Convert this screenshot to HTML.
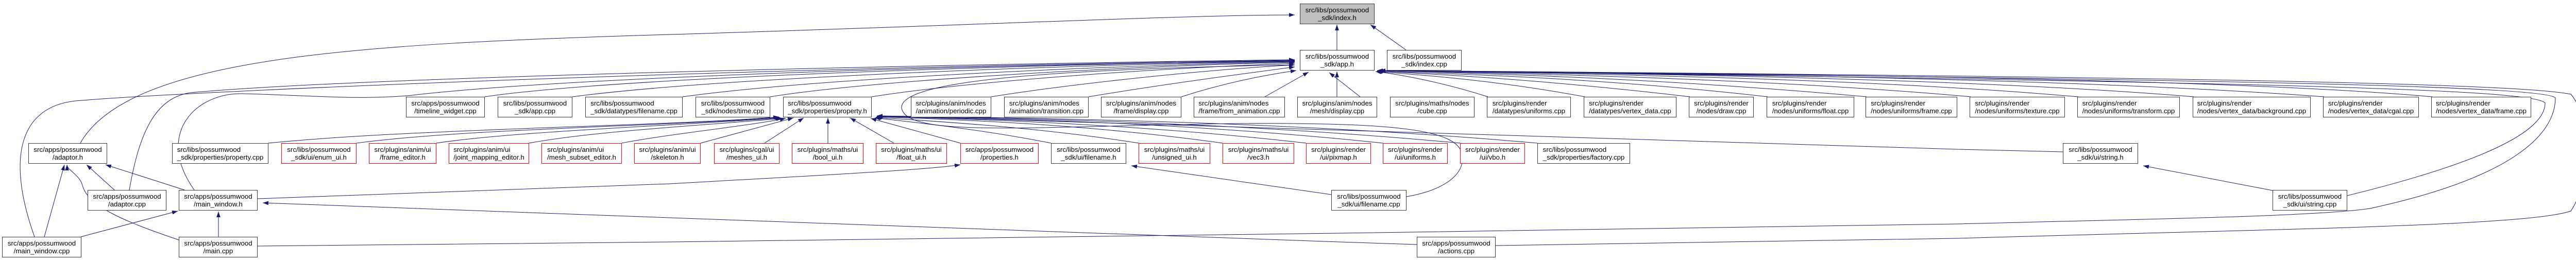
<!DOCTYPE html>
<html><head><meta charset="utf-8"><style>
html,body{margin:0;padding:0;background:#fff;}
body{width:5079px;height:507px;position:relative;overflow:hidden;font-family:"Liberation Sans",sans-serif;font-size:13.3px;line-height:15px;color:#000;}
.n{position:absolute;height:40px;box-sizing:border-box;border:1px solid #3a3a3a;background:#fff;display:flex;align-items:center;justify-content:center;white-space:nowrap;z-index:2;}
.r{border-color:#ff0000;}
.g{background:#bfbfbf;}
.lb{display:inline-block;text-align:center;}
.lb span{display:block;text-align:left;}
svg{position:absolute;left:0;top:0;z-index:1;}
</style></head><body>
<svg width="5079" height="507" viewBox="0 0 5079 507">
<defs><marker id="a" markerUnits="userSpaceOnUse" markerWidth="11" markerHeight="8" viewBox="0 0 10 7" refX="10" refY="3.5" orient="auto"><path d="M0,0 L10,3.5 L0,7 z" fill="#191970"/></marker></defs>
<g fill="none" stroke="#191970" stroke-width="1" marker-end="url(#a)">
<path d="M2595,97 L2595,48"/>
<path d="M2729,97 L2660,48"/>
<path d="M156,278 C250,110 700,85 1300,67 S2300,29 2513,29"/>
<path d="M67,460 C10,300 40,200 160,195 C400,175 1500,130 2513,117"/>
<path d="M251,369 C270,260 300,190 370,180 C700,150 1800,125 2513,116"/>
<path d="M377,369 C300,260 380,180 470,182 C600,185 700,195 800,185 C1100,150 1900,125 2513,119"/>
<path d="M941,188 C1200,150 2000,125 2513,118"/>
<path d="M1111,188 C1400,150 2100,125 2513,119"/>
<path d="M1325,188 C1600,150 2200,126 2513,120"/>
<path d="M1495,188 C1700,155 2200,128 2513,121"/>
<path d="M1692,188 C1900,155 2300,130 2513,123"/>
<path d="M1924,188 C2100,160 2350,135 2513,126"/>
<path d="M2113,188 C2250,165 2400,145 2513,130"/>
<path d="M2293,188 C2380,160 2460,145 2516,137"/>
<path d="M2455,188 L2540,140"/>
<path d="M2595,188 L2595,139"/>
<path d="M2640,188 L2580,141"/>
<path d="M2888,188 C2800,160 2720,145 2670,139"/>
<path d="M3076,188 C2900,155 2750,145 2672,139"/>
<path d="M3280,188 C3000,155 2800,145 2673,138"/>
<path d="M3431,188 C3100,150 2800,143 2673,138"/>
<path d="M3623,188 C3200,150 2850,142 2673,137"/>
<path d="M3825,188 C3400,150 2900,142 2673,137"/>
<path d="M4034,188 C3600,150 3000,142 2673,137"/>
<path d="M4258,188 C3800,150 3100,142 2673,137"/>
<path d="M4511,188 C4000,150 3200,142 2673,137"/>
<path d="M4721,188 C4300,150 3300,142 2673,137"/>
<path d="M500,478 L1300,470 L2600,453 L3800,435 C4200,425 4500,420 4600,405 C4900,340 4960,250 4960,190 C4940,170 4500,155 2678,137"/>
<path d="M2903,477 L3800,463 C4400,445 4900,440 4990,410 C5030,350 5030,230 4990,183 C4900,165 4400,150 2678,137"/>
<path d="M4556,380 C4800,320 4940,260 4940,200 C4920,175 4500,160 2678,137"/>
<path d="M2750,475 L2600,470 L1300,423 L510,394"/>
<path d="M500,386 L1300,357 C1600,340 1800,330 1864,320"/>
<path d="M2584,378 L2196,322"/>
<path d="M2730,382 C2800,370 2845,340 2838,300 C2830,250 2700,238 2400,240 C2000,245 1760,268 1750,210 C1745,160 2000,135 2513,126"/>
<path d="M4411,370 L4160,322"/>
<path d="M4004,295 L3800,290 C3000,265 2200,240 1702,225"/>
<path d="M521,278 C800,250 1300,245 1512,227"/>
<path d="M692,278 C900,250 1300,245 1514,228"/>
<path d="M847,278 C1000,255 1300,245 1516,229"/>
<path d="M1027,278 C1150,255 1350,245 1518,230"/>
<path d="M1207,278 C1300,260 1450,245 1525,230"/>
<path d="M1360,278 L1540,229"/>
<path d="M1484,278 L1560,229"/>
<path d="M1607,278 L1607,229"/>
<path d="M1735,278 L1650,229"/>
<path d="M1864,278 L1690,230"/>
<path d="M2040,278 C1900,250 1750,235 1698,229"/>
<path d="M2210,278 C2000,245 1800,235 1700,228"/>
<path d="M2373,278 C2100,240 1850,232 1701,227"/>
<path d="M2535,278 C2200,240 1900,232 1702,226"/>
<path d="M2684,278 C2300,238 1950,230 1702,226"/>
<path d="M2834,278 C2400,238 2000,230 1702,225"/>
<path d="M2984,278 C2500,236 2050,230 1702,225"/>
<path d="M222,369 L168,320"/>
<path d="M358,369 L205,320"/>
<path d="M86,460 L125,320"/>
<path d="M347,466 C240,430 170,400 160,360 C155,340 130,330 130,320"/>
<path d="M157,460 L345,410"/>
<path d="M424,460 L424,411"/>
</g>
</svg>
<div class="n g" style="left:2523px;top:7px;width:145px"><div class="lb"><span>src/libs/possumwood</span>_sdk/index.h</div></div>
<div class="n" style="left:2523px;top:97px;width:145px"><div class="lb"><span>src/libs/possumwood</span>_sdk/app.h</div></div>
<div class="n" style="left:2692px;top:97px;width:145px"><div class="lb"><span>src/libs/possumwood</span>_sdk/index.cpp</div></div>

<div class="n" style="left:788px;top:188px;width:153px"><div class="lb"><span>src/apps/possumwood</span>/timeline_widget.cpp</div></div>
<div class="n" style="left:966px;top:188px;width:145px"><div class="lb"><span>src/libs/possumwood</span>_sdk/app.cpp</div></div>
<div class="n" style="left:1136px;top:188px;width:189px"><div class="lb"><span>src/libs/possumwood</span>_sdk/datatypes/filename.cpp</div></div>
<div class="n" style="left:1350px;top:188px;width:145px"><div class="lb"><span>src/libs/possumwood</span>_sdk/nodes/time.cpp</div></div>
<div class="n" style="left:1520px;top:188px;width:172px"><div class="lb"><span>src/libs/possumwood</span>_sdk/properties/property.h</div></div>
<div class="n" style="left:1768px;top:188px;width:156px"><div class="lb"><span>src/plugins/anim/nodes</span>/animation/periodic.cpp</div></div>
<div class="n" style="left:1949px;top:188px;width:164px"><div class="lb"><span>src/plugins/anim/nodes</span>/animation/transition.cpp</div></div>
<div class="n" style="left:2137px;top:188px;width:156px"><div class="lb"><span>src/plugins/anim/nodes</span>/frame/display.cpp</div></div>
<div class="n" style="left:2317px;top:188px;width:177px"><div class="lb"><span>src/plugins/anim/nodes</span>/frame/from_animation.cpp</div></div>
<div class="n" style="left:2518px;top:188px;width:155px"><div class="lb"><span>src/plugins/anim/nodes</span>/mesh/display.cpp</div></div>
<div class="n" style="left:2698px;top:188px;width:164px"><div class="lb"><span>src/plugins/maths/nodes</span>/cube.cpp</div></div>
<div class="n" style="left:2886px;top:188px;width:163px"><div class="lb"><span>src/plugins/render</span>/datatypes/uniforms.cpp</div></div>
<div class="n" style="left:3074px;top:188px;width:180px"><div class="lb"><span>src/plugins/render</span>/datatypes/vertex_data.cpp</div></div>
<div class="n" style="left:3278px;top:188px;width:126px"><div class="lb"><span>src/plugins/render</span>/nodes/draw.cpp</div></div>
<div class="n" style="left:3429px;top:188px;width:170px"><div class="lb"><span>src/plugins/render</span>/nodes/uniforms/float.cpp</div></div>
<div class="n" style="left:3621px;top:188px;width:178px"><div class="lb"><span>src/plugins/render</span>/nodes/uniforms/frame.cpp</div></div>
<div class="n" style="left:3823px;top:188px;width:185px"><div class="lb"><span>src/plugins/render</span>/nodes/uniforms/texture.cpp</div></div>
<div class="n" style="left:4032px;top:188px;width:199px"><div class="lb"><span>src/plugins/render</span>/nodes/uniforms/transform.cpp</div></div>
<div class="n" style="left:4256px;top:188px;width:229px"><div class="lb"><span>src/plugins/render</span>/nodes/vertex_data/background.cpp</div></div>
<div class="n" style="left:4509px;top:188px;width:186px"><div class="lb"><span>src/plugins/render</span>/nodes/vertex_data/cgal.cpp</div></div>
<div class="n" style="left:4719px;top:188px;width:194px"><div class="lb"><span>src/plugins/render</span>/nodes/vertex_data/frame.cpp</div></div>

<div class="n" style="left:55px;top:278px;width:153px"><div class="lb"><span>src/apps/possumwood</span>/adaptor.h</div></div>
<div class="n" style="left:334px;top:278px;width:187px"><div class="lb"><span>src/libs/possumwood</span>_sdk/properties/property.cpp</div></div>
<div class="n r" style="left:546px;top:278px;width:146px"><div class="lb"><span>src/libs/possumwood</span>_sdk/ui/enum_ui.h</div></div>
<div class="n r" style="left:716px;top:278px;width:131px"><div class="lb"><span>src/plugins/anim/ui</span>/frame_editor.h</div></div>
<div class="n r" style="left:871px;top:278px;width:156px"><div class="lb"><span>src/plugins/anim/ui</span>/joint_mapping_editor.h</div></div>
<div class="n r" style="left:1051px;top:278px;width:156px"><div class="lb"><span>src/plugins/anim/ui</span>/mesh_subset_editor.h</div></div>
<div class="n r" style="left:1231px;top:278px;width:129px"><div class="lb"><span>src/plugins/anim/ui</span>/skeleton.h</div></div>
<div class="n r" style="left:1386px;top:278px;width:127px"><div class="lb"><span>src/plugins/cgal/ui</span>/meshes_ui.h</div></div>
<div class="n r" style="left:1537px;top:278px;width:139px"><div class="lb"><span>src/plugins/maths/ui</span>/bool_ui.h</div></div>
<div class="n r" style="left:1700px;top:278px;width:138px"><div class="lb"><span>src/plugins/maths/ui</span>/float_ui.h</div></div>
<div class="n r" style="left:1864px;top:278px;width:152px"><div class="lb"><span>src/apps/possumwood</span>/properties.h</div></div>
<div class="n" style="left:2040px;top:278px;width:146px"><div class="lb"><span>src/libs/possumwood</span>_sdk/ui/filename.h</div></div>
<div class="n r" style="left:2210px;top:278px;width:139px"><div class="lb"><span>src/plugins/maths/ui</span>/unsigned_ui.h</div></div>
<div class="n r" style="left:2373px;top:278px;width:139px"><div class="lb"><span>src/plugins/maths/ui</span>/vec3.h</div></div>
<div class="n r" style="left:2535px;top:278px;width:126px"><div class="lb"><span>src/plugins/render</span>/ui/pixmap.h</div></div>
<div class="n r" style="left:2684px;top:278px;width:126px"><div class="lb"><span>src/plugins/render</span>/ui/uniforms.h</div></div>
<div class="n r" style="left:2834px;top:278px;width:126px"><div class="lb"><span>src/plugins/render</span>/ui/vbo.h</div></div>
<div class="n" style="left:2984px;top:278px;width:180px"><div class="lb"><span>src/libs/possumwood</span>_sdk/properties/factory.cpp</div></div>
<div class="n" style="left:4004px;top:278px;width:146px"><div class="lb"><span>src/libs/possumwood</span>_sdk/ui/string.h</div></div>

<div class="n" style="left:170px;top:369px;width:153px"><div class="lb"><span>src/apps/possumwood</span>/adaptor.cpp</div></div>
<div class="n" style="left:347px;top:369px;width:153px"><div class="lb"><span>src/apps/possumwood</span>/main_window.h</div></div>
<div class="n" style="left:2584px;top:369px;width:146px"><div class="lb"><span>src/libs/possumwood</span>_sdk/ui/filename.cpp</div></div>
<div class="n" style="left:4411px;top:369px;width:145px"><div class="lb"><span>src/libs/possumwood</span>_sdk/ui/string.cpp</div></div>

<div class="n" style="left:4px;top:460px;width:154px"><div class="lb"><span>src/apps/possumwood</span>/main_window.cpp</div></div>
<div class="n" style="left:347px;top:460px;width:153px"><div class="lb"><span>src/apps/possumwood</span>/main.cpp</div></div>
<div class="n" style="left:2750px;top:460px;width:153px"><div class="lb"><span>src/apps/possumwood</span>/actions.cpp</div></div>
</body></html>
